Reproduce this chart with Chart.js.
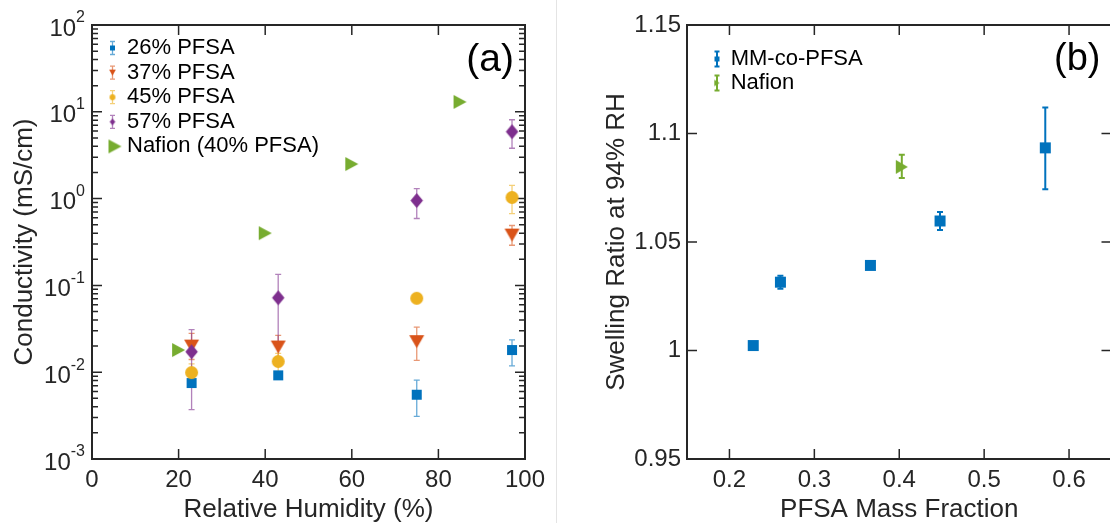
<!DOCTYPE html>
<html>
<head>
<meta charset="utf-8">
<script src="https://cdn.jsdelivr.net/npm/chart.js@4.4.1/dist/chart.umd.min.js"></script>
<style>
  html, body { margin: 0; padding: 0; background: #fff; }
  body { width: 1110px; height: 523px; overflow: hidden; position: relative; }
  #ca { position: absolute; left: 0; top: 0; }
  #cb { position: absolute; left: 560px; top: 0; }
  #divider { position: absolute; left: 556px; top: 0; width: 1px; height: 523px; background: #e4e4e4; }
</style>
</head>
<body>
<canvas id="ca" width="557" height="523"></canvas>
<div id="divider"></div>
<canvas id="cb" width="600" height="523"></canvas>
<script>
// (a) conductivity vs relative humidity
const rh26 = [23, 43, 75, 97];
const sig26 = [0.0075, 0.0092, 0.0055, 0.018];
const lo26 = [0.0068, 0.0086, 0.0031, 0.0118];
const hi26 = [0.0082, 0.0099, 0.0081, 0.0236];

const rh37 = [23, 43, 75, 97];
const sig37 = [0.020, 0.0195, 0.0225, 0.38];
const lo37 = [0.014, 0.0145, 0.0137, 0.29];
const hi37 = [0.028, 0.0265, 0.033, 0.49];

const rh45 = [23, 43, 75, 97];
const sig45 = [0.0099, 0.0133, 0.071, 1.03];
const lo45 = [0.0082, 0.0098, 0.066, 0.67];
const hi45 = [0.0125, 0.0165, 0.076, 1.42];

const rh57 = [23, 43, 75, 97];
const sig57 = [0.0172, 0.072, 0.95, 5.9];
const lo57 = [0.0037, 0.02, 0.59, 3.8];
const hi57 = [0.031, 0.134, 1.30, 8.1];

const rhNafion = [20, 40, 60, 85];
const sigNafion = [0.018, 0.40, 2.5, 13.0];

const xTicksA = [0, 20, 40, 60, 80, 100];
const xTickLabelsA = ['0', '20', '40', '60', '80', '100'];
const yPowersA = [-3, -2, -1, 0, 1, 2];

// (b) swelling ratio vs PFSA mass fraction
const fracMM = [0.228, 0.260, 0.366, 0.448, 0.572];
const swellMM = [1.0023, 1.0315, 1.0392, 1.0597, 1.0934];
const swellMMlo = [1.0023, 1.0285, 1.0392, 1.0555, 1.0743];
const swellMMhi = [1.0023, 1.0345, 1.0392, 1.0638, 1.1120];

const fracNafion = [0.403];
const swellNafion = [1.0846];
const swellNafionLo = [1.0795];
const swellNafionHi = [1.0902];

const xTicksB = [0.2, 0.3, 0.4, 0.5, 0.6];
const xTickLabelsB = ['0.2', '0.3', '0.4', '0.5', '0.6'];
const yTicksB = [0.95, 1, 1.05, 1.1, 1.15];
const yTickLabelsB = ['0.95', '1', '1.05', '1.1', '1.15'];

const FONT = '"Liberation Sans", Arial, Helvetica, sans-serif';
const INK = '#262626';
const BLUE = '#0072BD', ORANGE = '#D95319', YELLOW = '#EDB120', PURPLE = '#7E2F8E', GREEN = '#77AC30';

function fade(hex, a) {
  const n = parseInt(hex.slice(1), 16);
  return `rgba(${n >> 16},${(n >> 8) & 255},${n & 255},${a})`;
}

function makeMarker(shape, w, h, color) {
  const c = document.createElement('canvas');
  c.width = Math.ceil(w + 2);
  c.height = Math.ceil(h + 2);
  const g = c.getContext('2d');
  const cx = c.width / 2, cy = c.height / 2;
  g.fillStyle = color;
  g.beginPath();
  if (shape === 'square') g.rect(cx - w / 2, cy - h / 2, w, h);
  else if (shape === 'circle') g.arc(cx, cy, w / 2, 0, Math.PI * 2);
  else if (shape === 'triDown') { g.moveTo(cx - w / 2, cy - h / 2); g.lineTo(cx + w / 2, cy - h / 2); g.lineTo(cx, cy + h / 2); }
  else if (shape === 'triRight') { g.moveTo(cx - w / 2, cy - h / 2); g.lineTo(cx + w / 2, cy); g.lineTo(cx - w / 2, cy + h / 2); }
  else if (shape === 'diamond') { g.moveTo(cx, cy - h / 2); g.lineTo(cx + w / 2, cy); g.lineTo(cx, cy + h / 2); g.lineTo(cx - w / 2, cy); }
  g.closePath();
  g.fill();
  return c;
}

const pts = (xs, ys) => xs.map((x, i) => ({ x: x, y: ys[i] }));

function series(label, xs, ys, lo, hi, color, shape, w, h, order, errStyle) {
  return {
    label: label,
    data: pts(xs, ys),
    errLo: lo, errHi: hi,
    errColor: errStyle ? errStyle.color : null,
    errWidth: errStyle ? errStyle.width : 1,
    pointStyle: makeMarker(shape, w, h, color),
    legendIcon: makeMarker(shape, Math.max(5, w * 0.45), Math.max(5, h * 0.45), color),
    legendBig: lo ? null : makeMarker(shape, w, h, color),
    pointRadius: 6,
    order: order
  };
}

// box with inward ticks on all four sides
const frame = {
  id: 'frame',
  beforeDatasetsDraw(chart) {
    const { ctx, chartArea: a, scales: { x, y } } = chart;
    ctx.save();
    ctx.strokeStyle = INK;
    ctx.lineWidth = 1.5;
    ctx.beginPath();
    const seg = (x1, y1, x2, y2) => { ctx.moveTo(x1, y1); ctx.lineTo(x2, y2); };
    x.ticks.forEach(t => {
      const px = x.getPixelForValue(t.value);
      seg(px, a.bottom, px, a.bottom - 10);
      seg(px, a.top, px, a.top + 10);
    });
    y.ticks.forEach(t => {
      const py = y.getPixelForValue(t.value);
      seg(a.left, py, a.left + 10, py);
      seg(a.right, py, a.right - 10, py);
    });
    if (y.type === 'logarithmic') {
      yPowersA.slice(0, -1).forEach(p => {
        for (let k = 2; k <= 9; k++) {
          const py = y.getPixelForValue(k * Math.pow(10, p));
          seg(a.left, py, a.left + 6, py);
          seg(a.right, py, a.right - 6, py);
        }
      });
    }
    ctx.stroke();
    ctx.lineWidth = 2;
    ctx.strokeRect(a.left, a.top, a.right - a.left, a.bottom - a.top);
    ctx.restore();
  }
};

const errorBars = {
  id: 'errorBars',
  beforeDatasetsDraw(chart) {
    const { ctx, scales: { x, y } } = chart;
    chart.data.datasets.forEach(ds => {
      if (!ds.errLo) return;
      ctx.save();
      ctx.strokeStyle = ds.errColor;
      ctx.lineWidth = ds.errWidth;
      ds.data.forEach((p, i) => {
        const lo = ds.errLo[i], hi = ds.errHi[i];
        if (lo === hi) return;
        const px = x.getPixelForValue(p.x);
        const pl = y.getPixelForValue(lo), ph = y.getPixelForValue(hi);
        ctx.beginPath();
        ctx.moveTo(px, pl); ctx.lineTo(px, ph);
        ctx.moveTo(px - 3, pl); ctx.lineTo(px + 3, pl);
        ctx.moveTo(px - 3, ph); ctx.lineTo(px + 3, ph);
        ctx.stroke();
      });
      ctx.restore();
    });
  }
};

// legend inside the axes plus the panel letter
const legendBox = {
  id: 'legendBox',
  afterDraw(chart, args, opts) {
    const { ctx, chartArea: a } = chart;
    ctx.save();
    chart.data.datasets.forEach((ds, i) => {
      const ix = a.left + opts.iconX, iy = a.top + opts.rowY + i * opts.rowH;
      if (ds.legendBig) {
        const m = ds.legendBig;
        ctx.drawImage(m, ix + 2.5 - m.width / 2, iy - m.height / 2);
      } else {
        ctx.strokeStyle = ds.errColor;
        ctx.lineWidth = ds.errWidth;
        ctx.beginPath();
        ctx.moveTo(ix, iy - opts.barH); ctx.lineTo(ix, iy + opts.barH);
        ctx.moveTo(ix - 2.5, iy - opts.barH); ctx.lineTo(ix + 2.5, iy - opts.barH);
        ctx.moveTo(ix - 2.5, iy + opts.barH); ctx.lineTo(ix + 2.5, iy + opts.barH);
        ctx.stroke();
        const m = ds.legendIcon;
        ctx.drawImage(m, ix - m.width / 2, iy - m.height / 2);
      }
      ctx.fillStyle = '#000';
      ctx.font = `22px ${FONT}`;
      ctx.textAlign = 'left';
      ctx.textBaseline = 'middle';
      ctx.fillText(ds.label, a.left + opts.textX, iy);
    });
    ctx.fillStyle = '#000';
    ctx.font = `${opts.letterSize}px ${FONT}`;
    ctx.textAlign = 'right';
    ctx.textBaseline = 'middle';
    ctx.fillText(opts.letter, a.right - 11, a.top + 35);
    ctx.restore();
  }
};

// 10^n labels for the log axis
const logLabels = {
  id: 'logLabels',
  afterDraw(chart) {
    const { ctx, chartArea: a, scales: { y } } = chart;
    ctx.save();
    ctx.fillStyle = INK;
    ctx.textAlign = 'left';
    ctx.textBaseline = 'middle';
    yPowersA.forEach(p => {
      const py = y.getPixelForValue(Math.pow(10, p));
      const ex = String(p);
      ctx.font = `16px ${FONT}`;
      const we = ctx.measureText(ex).width;
      ctx.font = `24px ${FONT}`;
      const wb = ctx.measureText('10').width;
      const right = a.left - 7;
      ctx.fillText('10', right - we - wb, py + 4);
      ctx.font = `16px ${FONT}`;
      ctx.fillText(ex, right - we, py - 7);
    });
    ctx.restore();
  }
};

const tickFont = { family: FONT, size: 24 };
const titleFont = { family: FONT, size: 26, lineHeight: 1 };
const noGrid = { display: false, drawTicks: false };

const errA = c => ({ color: fade(c, 0.6), width: 1.3 });

new Chart(document.getElementById('ca'), {
  type: 'scatter',
  data: {
    datasets: [
      series('26% PFSA', rh26, sig26, lo26, hi26, BLUE, 'square', 10, 10, 5, errA(BLUE)),
      series('37% PFSA', rh37, sig37, lo37, hi37, ORANGE, 'triDown', 15, 13, 4, errA(ORANGE)),
      series('45% PFSA', rh45, sig45, lo45, hi45, YELLOW, 'circle', 13, 13, 3, errA(YELLOW)),
      series('57% PFSA', rh57, sig57, lo57, hi57, PURPLE, 'diamond', 12.5, 15, 2, errA(PURPLE)),
      series('Nafion (40% PFSA)', rhNafion, sigNafion, null, null, GREEN, 'triRight', 13, 14, 1, null)
    ]
  },
  options: {
    responsive: false,
    animation: false,
    layout: { padding: { left: 0, right: 32, top: 25, bottom: 0 } },
    plugins: {
      legend: { display: false },
      tooltip: { enabled: false },
      legendBox: { iconX: 20.5, textX: 35, rowY: 23, rowH: 24.6, barH: 6.5, letter: '(a)', letterSize: 39 }
    },
    scales: {
      x: {
        type: 'linear', min: 0, max: 100,
        afterBuildTicks: s => { s.ticks = xTicksA.map(v => ({ value: v })); },
        afterFit: s => { s.height = 64; s.paddingLeft = 0; s.paddingRight = 0; },
        grid: noGrid,
        border: { display: false },
        ticks: { padding: 7, color: INK, font: tickFont, maxRotation: 0, autoSkip: false,
          callback: (v, i) => xTickLabelsA[i] },
        title: { display: true, text: 'Relative Humidity (%)', color: INK, font: titleFont, padding: { top: 0, bottom: 0 } }
      },
      y: {
        type: 'logarithmic', min: 1e-3, max: 1e2,
        afterBuildTicks: s => { s.ticks = yPowersA.map(p => ({ value: Math.pow(10, p) })); },
        afterFit: s => { s.width = 92; s.paddingTop = 0; s.paddingBottom = 0; },
        grid: noGrid,
        border: { display: false },
        ticks: { display: false },
        title: { display: true, text: 'Conductivity (mS/cm)', color: INK, font: titleFont, padding: { top: 12, bottom: 0 } }
      }
    }
  },
  plugins: [frame, errorBars, legendBox, logLabels]
});

new Chart(document.getElementById('cb'), {
  type: 'scatter',
  data: {
    datasets: [
      series('MM-co-PFSA', fracMM, swellMM, swellMMlo, swellMMhi, BLUE, 'square', 11, 11, 2, { color: BLUE, width: 2 }),
      series('Nafion', fracNafion, swellNafion, swellNafionLo, swellNafionHi, GREEN, 'triRight', 12, 14, 1, { color: GREEN, width: 2 })
    ]
  },
  options: {
    responsive: false,
    animation: false,
    layout: { padding: { left: 0, right: 48.5, top: 25, bottom: 0 } },
    plugins: {
      legend: { display: false },
      tooltip: { enabled: false },
      legendBox: { iconX: 30, textX: 43.7, rowY: 34, rowH: 24, barH: 7.5, letter: '(b)', letterSize: 38 }
    },
    scales: {
      x: {
        type: 'linear', min: 0.15, max: 0.65,
        afterBuildTicks: s => { s.ticks = xTicksB.map(v => ({ value: v })); },
        afterFit: s => { s.height = 64; s.paddingLeft = 0; s.paddingRight = 0; },
        grid: noGrid,
        border: { display: false },
        ticks: { padding: 7, color: INK, font: tickFont, maxRotation: 0, autoSkip: false,
          callback: (v, i) => xTickLabelsB[i] },
        title: { display: true, text: 'PFSA Mass Fraction', color: INK, font: titleFont, padding: { top: 0, bottom: 0 } }
      },
      y: {
        type: 'linear', min: 0.95, max: 1.15,
        afterBuildTicks: s => { s.ticks = yTicksB.map(v => ({ value: v })); },
        afterFit: s => { s.width = 127; s.paddingTop = 0; s.paddingBottom = 0; },
        grid: noGrid,
        border: { display: false },
        ticks: { padding: 6, color: INK, font: tickFont, autoSkip: false,
          callback: (v, i) => yTickLabelsB[i] },
        title: { display: true, text: 'Swelling Ratio at 94% RH', color: INK, font: titleFont, padding: { top: 44, bottom: 0 } }
      }
    }
  },
  plugins: [frame, errorBars, legendBox]
});
</script>
</body>
</html>
